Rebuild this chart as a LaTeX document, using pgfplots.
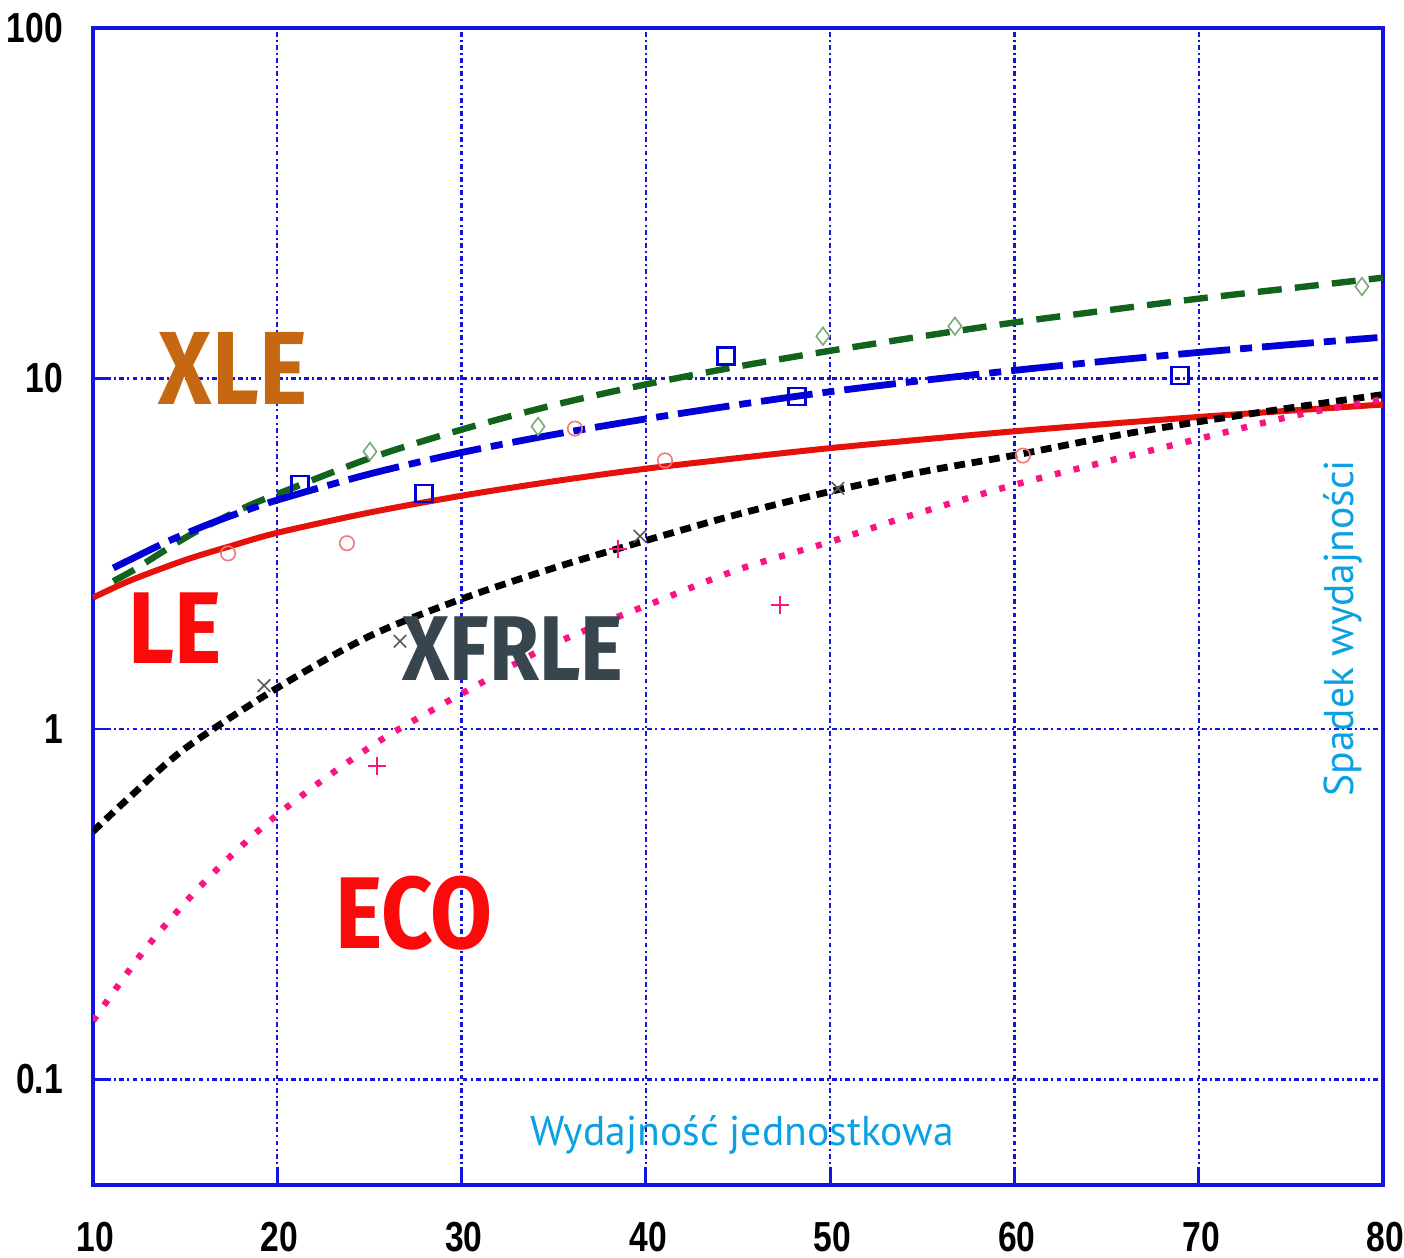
\documentclass[border=0pt]{standalone}
\usepackage{pgfplots}
\pgfplotsset{compat=1.18}
\usepackage{fontspec}
\setmainfont{Liberation Sans}
\newfontfamily\tickfont[FakeStretch=0.8]{Liberation Sans}
\newfontfamily\annfont[FakeStretch=0.88]{Fira Sans}
\newfontfamily\labfont{PT Sans}
\definecolor{gridblue}{RGB}{20,20,225}
\definecolor{cgreen}{RGB}{18,100,28}
\definecolor{cblue}{RGB}{0,0,215}
\definecolor{cred}{RGB}{228,18,10}
\definecolor{cpink}{RGB}{250,20,130}
\definecolor{mgreen}{RGB}{120,170,120}
\definecolor{mred}{RGB}{240,120,120}
\definecolor{mgray}{RGB}{90,90,90}
\definecolor{xleorange}{RGB}{198,104,18}
\definecolor{xfrgray}{RGB}{55,70,78}
\definecolor{cyanlab}{RGB}{10,160,225}
\definecolor{lered}{RGB}{250,10,10}
\begin{document}
\begin{tikzpicture}
\useasboundingbox (-23.25pt,-18pt) rectangle (327.75pt,296.25pt);
\begin{axis}[
  at={(0,0)}, anchor=south west,
  width=322.5pt, height=289.25pt, scale only axis,
  xmin=10, xmax=80, ymin=0.05, ymax=100,
  ymode=log,
  xtick={10,20,30,40,50,60,70,80},
  xticklabels={10,20,30,40,50,60,70,80},
  ytick={0.1,1,10,100},
  yticklabels={0.1,1,10,100},
  minor ytick={},
  log basis y=10,
  axis line style={gridblue, line width=0.8pt},
  tick style={gridblue, line width=0.7pt, solid},
  major tick length=4.5pt,
  tick align=inside,
  xtick pos=bottom, ytick pos=left,
  grid=major,
  major grid style={gridblue, line width=0.6pt, dash pattern=on 1.2pt off 0.8pt on 0.5pt off 0.8pt},
  tick label style={font=\tickfont\bfseries\fontsize{10.5}{12}\selectfont, text=black},
  yticklabel style={anchor=east, xshift=-4pt},
  xticklabel style={anchor=north, yshift=-5.8pt, xshift=0.6pt},
]
% green dashed
\addplot[cgreen, line width=1.6pt, dash pattern=on 6pt off 3.3pt, smooth] coordinates {
(11.1,2.64)(12.2,2.84)(13.8,3.21)(15.6,3.66)(18.3,4.3)(20,4.68)(25,5.92)(30,7.15)(35,8.4)(40,9.62)(45,10.82)(50,12.0)(55,13.2)(60,14.45)(65,15.65)(70,16.9)(75,18.1)(80,19.4)};
% blue dash-dot
\addplot[cblue, line width=1.7pt, dash pattern=on 13pt off 2.5pt on 3pt off 2.5pt, smooth] coordinates {
(11.1,2.88)(12,3.04)(14,3.42)(16,3.79)(18,4.15)(20,4.5)(25,5.34)(30,6.15)(35,6.92)(40,7.67)(45,8.42)(50,9.17)(55,9.87)(60,10.55)(65,11.22)(70,11.87)(75,12.5)(79.7,13.08)};
% red solid
\addplot[cred, line width=1.5pt, smooth] coordinates {
(10,2.37)(12,2.65)(15,3.035)(17.5,3.33)(20,3.63)(25,4.145)(30,4.63)(35,5.09)(40,5.53)(45,5.93)(50,6.33)(55,6.70)(60,7.07)(65,7.42)(70,7.77)(75,8.10)(80,8.43)};
% black short dashes
\addplot[black, line width=1.7pt, dash pattern=on 2.7pt off 1.7pt, smooth] coordinates {
(10,0.51)(12,0.64)(15,0.88)(20,1.31)(25,1.84)(30,2.35)(35,2.88)(40,3.45)(45,4.1)(50,4.76)(55,5.42)(60,6.04)(65,6.8)(70,7.53)(75,8.25)(80,9.0)};
% pink dotted
\addplot[cpink, line width=1.6pt, dash pattern=on 1.5pt off 3.3pt, smooth] coordinates {
(10,0.147)(12.9,0.238)(16,0.364)(19.2,0.525)(22.3,0.705)(25.6,0.929)(28.7,1.155)(30.8,1.33)(34.5,1.7)(38.3,2.07)(40.4,2.29)(45,2.85)(50,3.42)(54.2,4.04)(59.6,4.91)(64.6,5.73)(70.1,6.75)(75.3,7.86)(79.7,8.67)(80,8.72)};
% markers
\addplot[only marks, mark=o, mark size=1.8pt, mred, mark options={line width=0.4pt}] coordinates {
(17.33,3.17)(23.78,3.39)(36.15,7.20)(41.04,5.84)(60.46,6.03)};
\addplot[only marks, mark=diamond, mark size=2.2pt, mgreen, mark options={line width=0.4pt}] coordinates {
(25.03,6.19)(34.15,7.30)(49.61,13.2)(56.77,14.1)(78.86,18.3)};
\addplot[only marks, mark=square, mark size=2.1pt, cblue, mark options={line width=0.6pt}] coordinates {
(21.23,4.99)(27.96,4.70)(44.35,11.6)(48.20,8.89)(68.98,10.2)};
\addplot[only marks, mark=x, mark size=2.2pt, mgray, mark options={line width=0.4pt}] coordinates {
(19.28,1.33)(26.66,1.78)(39.68,3.55)(50.42,4.86)};
\addplot[only marks, mark=+, mark size=2.3pt, cpink, mark options={line width=0.5pt}] coordinates {
(25.41,0.785)(38.49,3.26)(47.28,2.26)};
% annotations
\node[font=\annfont\bfseries\fontsize{26}{26}\selectfont, text=xleorange, inner sep=0pt] at (axis cs:17.6,10.68) {XLE};
\node[font=\annfont\bfseries\fontsize{25.5}{26}\selectfont, text=lered, inner sep=0pt] at (axis cs:14.45,1.94) {LE};
\node[font=\annfont\bfseries\fontsize{23}{24}\selectfont, text=xfrgray, inner sep=0pt] at (axis cs:32.8,1.70) {XFRLE};
\node[font=\annfont\bfseries\fontsize{25.5}{26}\selectfont, text=lered, inner sep=0pt] at (axis cs:27.42,0.299) {ECO};
\node[font=\labfont\fontsize{10.4}{12}\selectfont, text=cyanlab, inner sep=0pt] at (axis cs:45.21,0.0697) {Wydajność jednostkowa};
\node[font=\labfont\fontsize{10.4}{12}\selectfont, text=cyanlab, inner sep=0pt, rotate=90] at (axis cs:77.8,1.94) {Spadek wydajności};
\end{axis}
\end{tikzpicture}
\end{document}
